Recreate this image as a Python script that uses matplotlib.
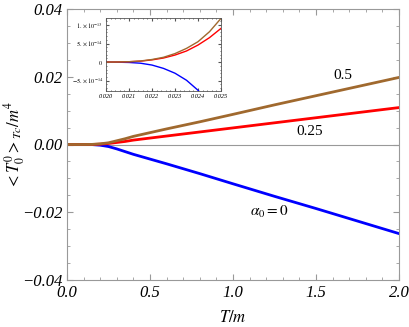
import matplotlib
matplotlib.use("Agg")
from matplotlib import pyplot as plt
from matplotlib.ticker import MultipleLocator

plt.rcParams['mathtext.fontset'] = 'stix'
plt.rcParams['font.family'] = 'Liberation Serif'

# main curves
T = [0, 0.1, 0.15, 0.2, 0.25, 0.3, 0.35, 0.4, 0.5, 0.6, 0.8, 1.0, 1.25, 1.5, 1.75, 2.0]
a000 = [0, 0, -0.00002, -0.0002, -0.0006, -0.0013, -0.0021, -0.0029, -0.0043,
        -0.0057, -0.0086, -0.0116, -0.0153, -0.0189, -0.0226, -0.0263]
a025 = [0, 0, 0, 0.0001, 0.0003, 0.0006, 0.0009, 0.0013, 0.0019,
        0.0025, 0.0037, 0.0049, 0.0064, 0.0079, 0.0094, 0.0109]
a050 = [0, 0, 0.00003, 0.0002, 0.0005, 0.0011, 0.0017, 0.0024, 0.0035,
        0.0046, 0.0067, 0.0089, 0.0117, 0.0144, 0.0171, 0.0198]
xticks = [0, 0.5, 1.0, 1.5, 2.0]
xtick_labels = ['0.0', '0.5', '1.0', '1.5', '2.0']
yticks = [-0.04, -0.02, 0, 0.02, 0.04]
ytick_labels = ['\u22120.04', '\u22120.02', '0.00', '0.02', '0.04']

# inset curves
Ti = [0.020, 0.0205, 0.021, 0.0215, 0.022, 0.0225, 0.023, 0.0235, 0.024, 0.0245, 0.025]
i000 = [0, -0.3e-15, -1e-15, -3e-15, -8e-15, -1.7e-14, -3.0e-14, -4.9e-14, -7.6e-14, -1.1e-13, -1.6e-13]
i025 = [0, 0.3e-15, 1e-15, 2.5e-15, 6e-15, 1.1e-14, 1.9e-14, 3.0e-14, 4.6e-14, 6.6e-14, 9.1e-14]
i050 = [0, 0.3e-15, 1e-15, 3e-15, 7e-15, 1.3e-14, 2.3e-14, 3.7e-14, 5.5e-14, 8.2e-14, 1.18e-13]
ixticks = [0.020, 0.021, 0.022, 0.023, 0.024, 0.025]
ixtick_labels = ['0.020', '0.021', '0.022', '0.023', '0.024', '0.025']
iyticks = [-5e-14, 0, 5e-14, 1e-13]
iytick_labels = [r'$-5.\times 10^{-14}$', '$0$', r'$5.\times 10^{-14}$', r'$1.\times 10^{-13}$']

brown = '#A0692E'
gray = '#999999'

fig = plt.figure(figsize=(4.09, 3.27), dpi=100)
ax = fig.add_axes([67/409, 47/327, 332/409, 271/327])

ax.axhline(0, color=gray, lw=0.8)
ax.plot(T, a000, color='blue', lw=2)
ax.plot(T, a025, color='red', lw=2)
ax.plot(T, a050, color=brown, lw=2)

ax.set_xlim(0, 2)
ax.set_ylim(-0.04, 0.04)
ax.set_xticks(xticks)
ax.set_xticklabels(xtick_labels, fontstyle='italic')
ax.set_yticks(yticks)
ax.set_yticklabels(ytick_labels, fontstyle='italic')
ax.xaxis.set_minor_locator(MultipleLocator(0.1))
ax.yaxis.set_minor_locator(MultipleLocator(0.005))
ax.tick_params(which='both', direction='in', top=True, right=True, color=gray, labelsize=12)
ax.tick_params(which='major', length=4)
ax.tick_params(which='minor', length=2)
for s in ax.spines.values():
    s.set_color(gray)

ax.set_xlabel('$T/m$', fontsize=12)
ax.set_ylabel('$<T_0^0>_{Tc}/m^4$', fontsize=12)
ax.xaxis.set_label_coords(0.5, -(310 - 280) / 271)
ax.yaxis.set_label_coords(-(67 - 27) / 332, 0.5)

ax.text(1.66, 0.0204, '0.5', fontsize=11, ha='center', va='center')
ax.text(1.46, 0.0038, '0.25', fontsize=11, ha='center', va='center')
ax.text(1.22, -0.020, r'$\alpha_0 = 0$', fontsize=11, ha='center', va='center')

ins = fig.add_axes([106/409, (327-91)/327, 115/409, 73/327])
ins.plot(Ti, i000, color='blue', lw=1)
ins.plot(Ti, i025, color='red', lw=1)
ins.plot(Ti, i050, color=brown, lw=1)
ins.set_xlim(0.020, 0.025)
ins.set_ylim(-7.8e-14, 1.19e-13)
ins.set_xticks(ixticks)
ins.set_xticklabels(ixtick_labels, fontstyle='italic')
ins.set_yticks(iyticks)
ins.set_yticklabels(iytick_labels)
ins.xaxis.set_minor_locator(MultipleLocator(0.0002))
ins.yaxis.set_minor_locator(MultipleLocator(1e-14))
ins.tick_params(which='both', direction='in', top=True, right=True, color='#555555', labelsize=4.5, pad=2)
ins.tick_params(which='major', length=2)
ins.tick_params(which='minor', length=1)
for s in ins.spines.values():
    s.set_color('#555555')
    s.set_linewidth(0.6)

fig.savefig('out.png', dpi=100)
